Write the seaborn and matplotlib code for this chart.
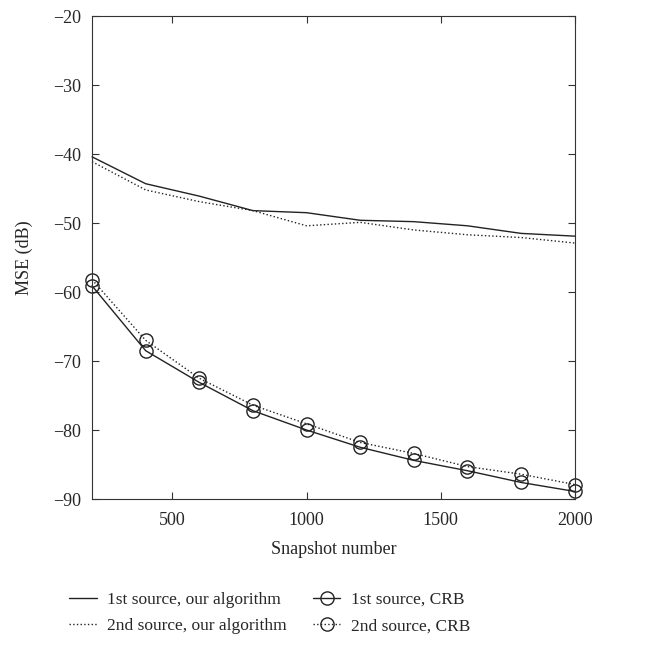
import pandas as pd
import matplotlib
matplotlib.use("Agg")
import matplotlib.pyplot as plt
from matplotlib.lines import Line2D
import seaborn as sns

sns.set_style("ticks")
plt.rcParams['font.family'] = ['Liberation Serif', 'DejaVu Serif']

# Snapshot numbers and MSE values (dB)
snapshots = [200, 400, 600, 800, 1000, 1200, 1400, 1600, 1800, 2000]
alg_src1 = [-40.4, -44.3, -46.1, -48.2, -48.5, -49.6, -49.8, -50.4, -51.5, -51.9]
alg_src2 = [-41.1, -45.2, -46.9, -48.2, -50.4, -49.9, -51.0, -51.7, -52.1, -52.9]
crb_src1 = [-59.1, -68.5, -73.1, -77.2, -80.0, -82.5, -84.4, -85.9, -87.6, -88.9]
crb_src2 = [-58.2, -67.0, -72.5, -76.4, -79.1, -81.8, -83.4, -85.3, -86.4, -87.9]

labels = ["1st source, our algorithm", "2nd source, our algorithm",
          "1st source, CRB", "2nd source, CRB"]
series = [alg_src1, alg_src2, crb_src1, crb_src2]

df = pd.DataFrame({
    "Snapshot": snapshots * 4,
    "MSE": sum(series, []),
    "Series": [lab for lab in labels for _ in snapshots],
})

styles = {
    labels[0]: dict(ls="-", marker=None),
    labels[1]: dict(ls=":", marker=None),
    labels[2]: dict(ls="-", marker="o"),
    labels[3]: dict(ls=":", marker="o"),
}
col = "#222222"

fig = plt.figure(figsize=(6.48, 6.58), dpi=100)
ax = fig.add_axes([0.142, 0.2416, 0.745, 0.734])

handles = []
for lab in labels:
    st = styles[lab]
    sns.lineplot(data=df[df["Series"] == lab], x="Snapshot", y="MSE", ax=ax,
                 color=col, linestyle=st["ls"], linewidth=1.0,
                 marker=st["marker"], markersize=9.5, markerfacecolor="none",
                 markeredgecolor=col, markeredgewidth=1.0,
                 legend=False, clip_on=False)
    handles.append(Line2D([], [], color=col, linestyle=st["ls"], linewidth=1.0,
                          marker=st["marker"], markersize=9.5,
                          markerfacecolor="none", markeredgecolor=col))

ax.set_xlim(200, 2000)
ax.set_ylim(-90, -20)
ax.set_xticks([500, 1000, 1500, 2000])
ax.set_yticks(range(-90, -19, 10))
ax.set_yticklabels([f"\u2212{abs(v)}" for v in range(-90, -19, 10)])
ax.tick_params(direction="in", top=True, right=True, length=5, labelsize=13,
               color="#333333")
ax.tick_params(axis="y", pad=8)
ax.tick_params(axis="x", pad=9)
for sp in ax.spines.values():
    sp.set_color("#333333")
ax.set_xlabel("Snapshot number", fontsize=13, labelpad=9)
ax.set_ylabel("MSE (dB)", fontsize=13, labelpad=14)

fig.legend(handles, labels,
           loc="lower left", bbox_to_anchor=(0.082, 0.012), ncol=2,
           frameon=False, fontsize=12.5, columnspacing=1.5, handlelength=1.6,
           handletextpad=0.6, labelspacing=0.6)

fig.savefig("out.png", dpi=100)
